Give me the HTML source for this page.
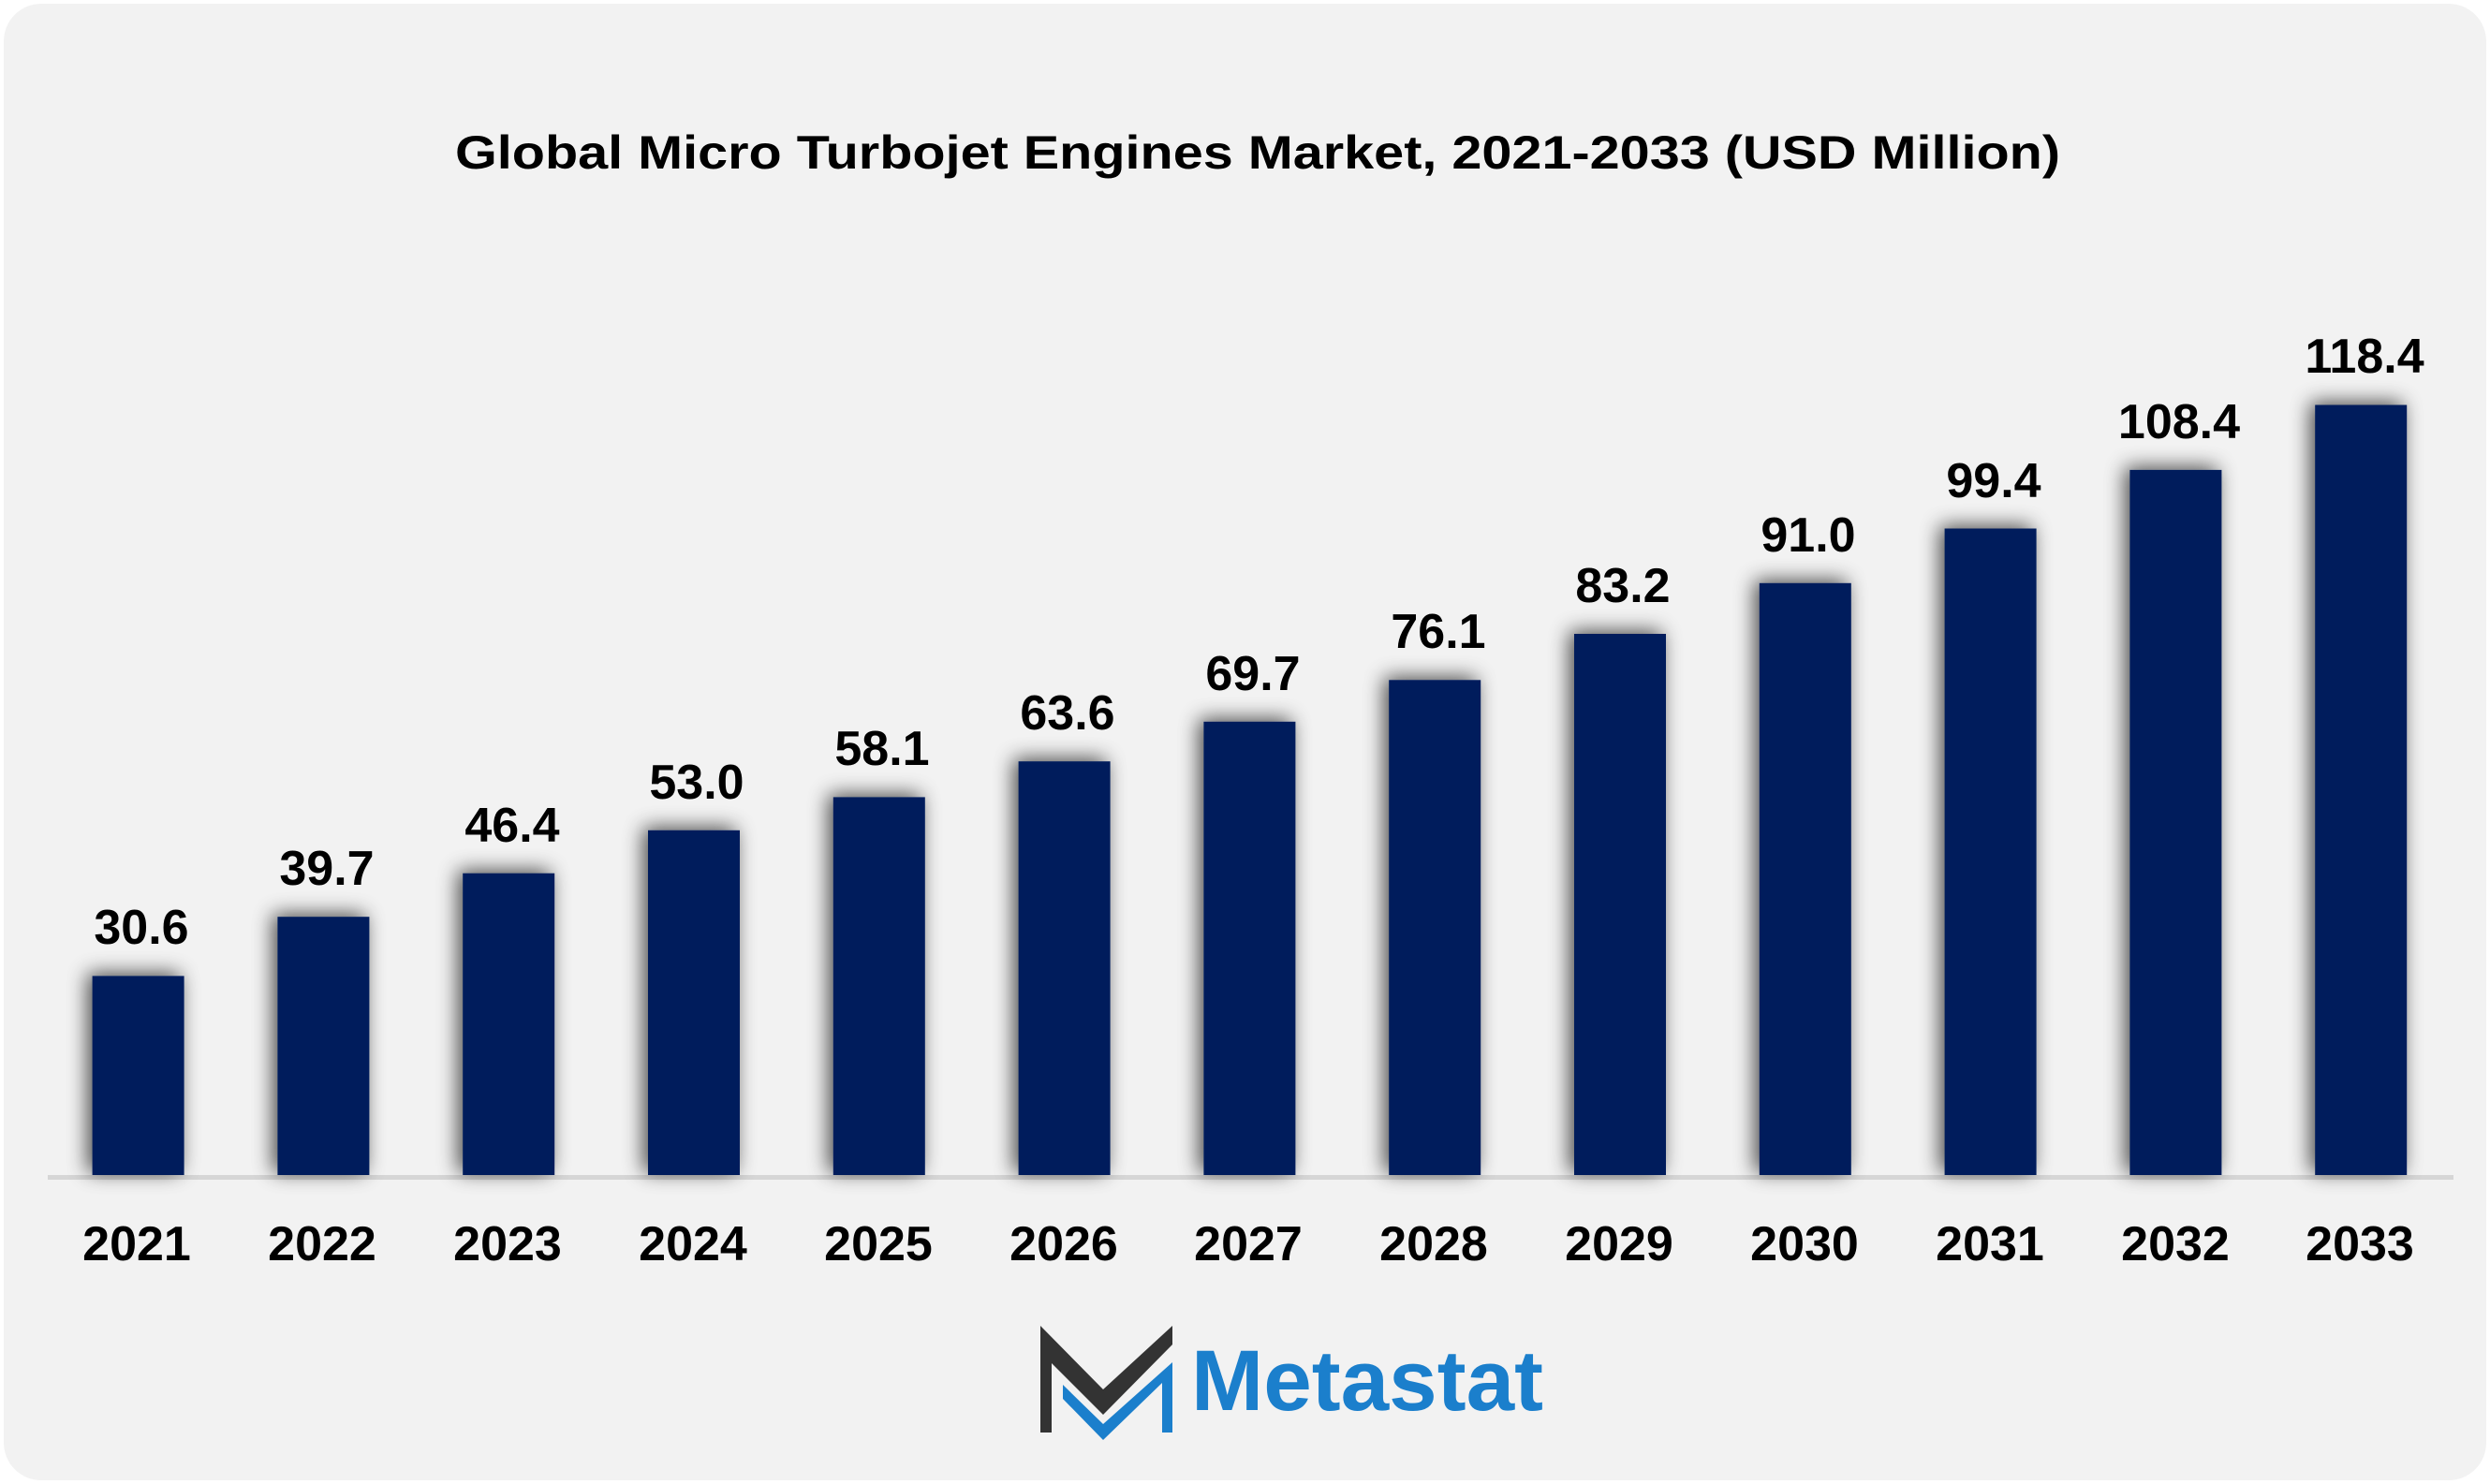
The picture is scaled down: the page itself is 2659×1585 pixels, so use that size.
<!DOCTYPE html>
<html><head><meta charset="utf-8"><style>
html,body{margin:0;padding:0;background:#fff;}
svg{display:block;}
text{font-family:"Liberation Sans",Arial,sans-serif;font-weight:bold;fill:#000;}
</style></head><body>
<svg width="2659" height="1585" viewBox="0 0 2659 1585" xmlns="http://www.w3.org/2000/svg">
<defs>
<filter id="sh" x="-60%" y="-20%" width="220%" height="140%">
<feGaussianBlur in="SourceAlpha" stdDeviation="11"/>
<feOffset dx="-5" dy="-3" result="b"/>
<feComponentTransfer><feFuncA type="linear" slope="0.7"/></feComponentTransfer>
<feMerge><feMergeNode/><feMergeNode in="SourceGraphic"/></feMerge>
</filter>
</defs>
<rect x="4" y="4" width="2651" height="1577" rx="40" fill="#f2f2f2"/>
<text x="1343" y="180" font-size="50" text-anchor="middle" textLength="1714" lengthAdjust="spacingAndGlyphs">Global Micro Turbojet Engines Market, 2021-2033 (USD Million)</text>
<rect x="51" y="1255" width="2569" height="5" fill="#d6d6d6"/>
<g fill="#001f5c" filter="url(#sh)">
<rect x="98.6" y="1042.4" width="98" height="212.6"/>
<rect x="296.4" y="979.2" width="98" height="275.8"/>
<rect x="494.2" y="932.7" width="98" height="322.3"/>
<rect x="692.0" y="886.8" width="98" height="368.2"/>
<rect x="889.8" y="851.4" width="98" height="403.6"/>
<rect x="1087.6" y="813.2" width="98" height="441.8"/>
<rect x="1285.4" y="770.8" width="98" height="484.2"/>
<rect x="1483.2" y="726.3" width="98" height="528.7"/>
<rect x="1681.0" y="677.0" width="98" height="578.0"/>
<rect x="1878.8" y="622.8" width="98" height="632.2"/>
<rect x="2076.6" y="564.5" width="98" height="690.5"/>
<rect x="2274.4" y="501.9" width="98" height="753.1"/>
<rect x="2472.2" y="432.5" width="98" height="822.5"/>
</g>
<g font-size="52" text-anchor="middle">
<text x="151" y="1008">30.6</text>
<text x="349" y="945">39.7</text>
<text x="547" y="899">46.4</text>
<text x="744" y="853">53.0</text>
<text x="942" y="817">58.1</text>
<text x="1140" y="779">63.6</text>
<text x="1338" y="737">69.7</text>
<text x="1536" y="692">76.1</text>
<text x="1733" y="643">83.2</text>
<text x="1931" y="589">91.0</text>
<text x="2129" y="531">99.4</text>
<text x="2327" y="468">108.4</text>
<text x="2525" y="398">118.4</text>
</g>
<g font-size="52" text-anchor="middle">
<text x="146" y="1346">2021</text>
<text x="344" y="1346">2022</text>
<text x="542" y="1346">2023</text>
<text x="740" y="1346">2024</text>
<text x="938" y="1346">2025</text>
<text x="1136" y="1346">2026</text>
<text x="1333" y="1346">2027</text>
<text x="1531" y="1346">2028</text>
<text x="1729" y="1346">2029</text>
<text x="1927" y="1346">2030</text>
<text x="2125" y="1346">2031</text>
<text x="2323" y="1346">2032</text>
<text x="2520" y="1346">2033</text>
</g>
<g transform="translate(1111,1416)">
<polygon points="0,0 67,68 141,0 141,20 67,95 12,40 12,114 0,114" fill="#333"/>
<polygon points="24,63 67,105 141,39 141,114 130,114 130,61 67,122 24,78" fill="#1b7fcc"/>
</g>
<text x="1272" y="1506" font-size="92" style="fill:#1b7fcc" textLength="376" lengthAdjust="spacingAndGlyphs">Metastat</text>
</svg>
</body></html>
